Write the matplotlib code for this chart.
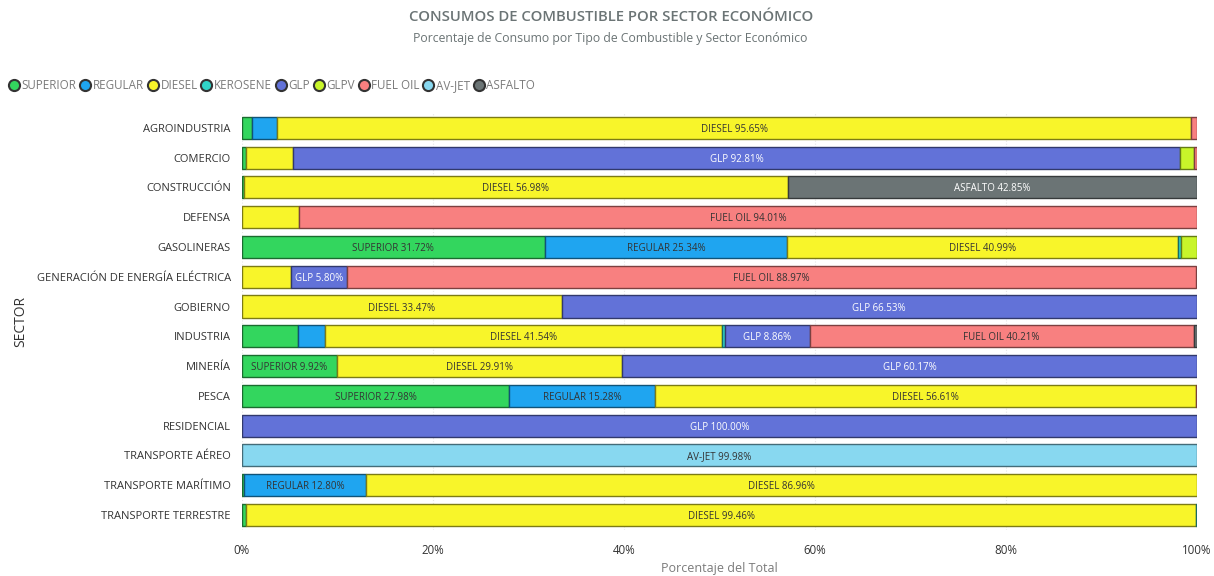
import numpy as np
import matplotlib.pyplot as plt
from matplotlib.lines import Line2D
from matplotlib.colors import to_rgb

plt.rcParams['font.family'] = ['Open Sans', 'DejaVu Sans']

# sectores y combustibles (porcentaje del total de cada sector)
sectores = ['AGROINDUSTRIA', 'COMERCIO', 'CONSTRUCCIÓN', 'DEFENSA', 'GASOLINERAS',
            'GENERACIÓN DE ENERGÍA ELÉCTRICA', 'GOBIERNO', 'INDUSTRIA', 'MINERÍA', 'PESCA',
            'RESIDENCIAL', 'TRANSPORTE AÉREO', 'TRANSPORTE MARÍTIMO', 'TRANSPORTE TERRESTRE']

superior = [1.05, 0.40, 0.17, 0, 31.72, 0, 0, 5.87, 9.92, 27.98, 0, 0, 0.24, 0.46]
regular = [2.65, 0, 0, 0, 25.34, 0, 0, 2.87, 0, 15.28, 0, 0, 12.80, 0]
diesel = [95.65, 4.98, 56.98, 5.97, 40.99, 5.17, 33.47, 41.54, 29.91, 56.61, 0, 0, 86.96, 99.46]
kerosene = [0, 0, 0, 0, 0.25, 0, 0, 0.30, 0, 0, 0, 0.02, 0, 0.08]
glp = [0, 92.81, 0, 0, 0, 5.80, 66.53, 8.86, 60.17, 0, 100.00, 0, 0, 0]
glpv = [0, 1.50, 0, 0, 1.70, 0, 0, 0, 0, 0, 0, 0, 0, 0]
fuel_oil = [0.65, 0.31, 0, 94.01, 0, 88.97, 0, 40.21, 0, 0.13, 0, 0, 0, 0]
av_jet = [0, 0, 0, 0, 0, 0, 0, 0, 0, 0, 0, 99.98, 0, 0]
asfalto = [0, 0, 42.85, 0, 0, 0, 0, 0.32, 0, 0, 0, 0, 0, 0]

combustibles = ['SUPERIOR', 'REGULAR', 'DIESEL', 'KEROSENE', 'GLP', 'GLPV', 'FUEL OIL', 'AV-JET', 'ASFALTO']
series = [superior, regular, diesel, kerosene, glp, glpv, fuel_oil, av_jet, asfalto]
colores = ['#33d65e', '#1fa5f0', '#f8f52a', '#30d5c8', '#6272d8', '#c8f52a', '#f88080', '#88d8f0', '#6b7475']
texto_blanco = {'GLP', 'ASFALTO'}


def oscuro(c, f=0.5):
    r, g, b = to_rgb(c)
    return (r * f, g * f, b * f)


fig = plt.figure(figsize=(12.14, 5.76), dpi=100)
ax = fig.add_axes([0.1993, 0.080, 0.7867, 0.724])

y = np.arange(len(sectores))
izq = np.zeros(len(sectores))
etiquetas = []
for nombre, vals, col in zip(combustibles, series, colores):
    vals = np.array(vals, dtype=float)
    m = vals > 0
    ax.barh(y[m], vals[m], left=izq[m], height=0.74, color=col,
            edgecolor=oscuro(col), linewidth=1.0, zorder=3)
    for i in np.where(m)[0]:
        etiquetas.append((nombre, izq[i] + vals[i] / 2, y[i], vals[i]))
    izq += vals

ax.set_xlim(0, 100)
ax.set_ylim(len(sectores) - 0.5, -0.5)
ax.set_yticks(y)
ax.set_yticklabels(sectores, fontsize=8, color='#333333')
ax.set_xticks([0, 20, 40, 60, 80, 100])
ax.set_xticklabels(['0%', '20%', '40%', '60%', '80%', '100%'], fontsize=8.3, color='#333333')
ax.tick_params(length=0, pad=8)
ax.tick_params(axis='x', pad=10)
ax.grid(axis='x', color='#e6e6e6', linestyle=':', linewidth=0.8, zorder=0)
for s in ax.spines.values():
    s.set_visible(False)

ax.set_xlabel('Porcentaje del Total', fontsize=9, color='#7b7b7b', labelpad=4)
ax.set_ylabel('SECTOR', fontsize=10, color='#333333')
ax.yaxis.set_label_coords(-0.224, 0.5)

# etiquetas dentro de los segmentos, solo si caben
fig.canvas.draw()
rend = fig.canvas.get_renderer()
px_por_pct = ax.get_window_extent().width / 100
for nombre, xc, yc, v in etiquetas:
    col = 'white' if nombre in texto_blanco else '#333333'
    t = ax.text(xc, yc, f'{nombre} {v:.2f}%', ha='center', va='center_baseline',
                fontsize=7, color=col, zorder=4)
    if t.get_window_extent(rend).width + 4 > v * px_por_pct:
        t.remove()

fig.text(0.503, 0.970, 'CONSUMOS DE COMBUSTIBLE POR SECTOR ECONÓMICO', ha='center', va='center',
         fontsize=10.7, fontweight='semibold', color='#6b7475')
fig.text(0.503, 0.933, 'Porcentaje de Consumo por Tipo de Combustible y Sector Económico',
         ha='center', va='center', fontsize=8.8, color='#6b7475')

handles = [Line2D([], [], marker='o', linestyle='', markersize=8, markerfacecolor=c,
                  markeredgecolor='#333333', markeredgewidth=1.5) for c in colores]
fig.legend(handles, combustibles, loc='center left', bbox_to_anchor=(0.004, 0.852), ncol=len(combustibles),
           frameon=False, fontsize=8.4, labelcolor='#7b7b7b', handletextpad=0.25, columnspacing=0.35,
           handlelength=0.8, borderaxespad=0)

fig.savefig('out.png', dpi=100)
